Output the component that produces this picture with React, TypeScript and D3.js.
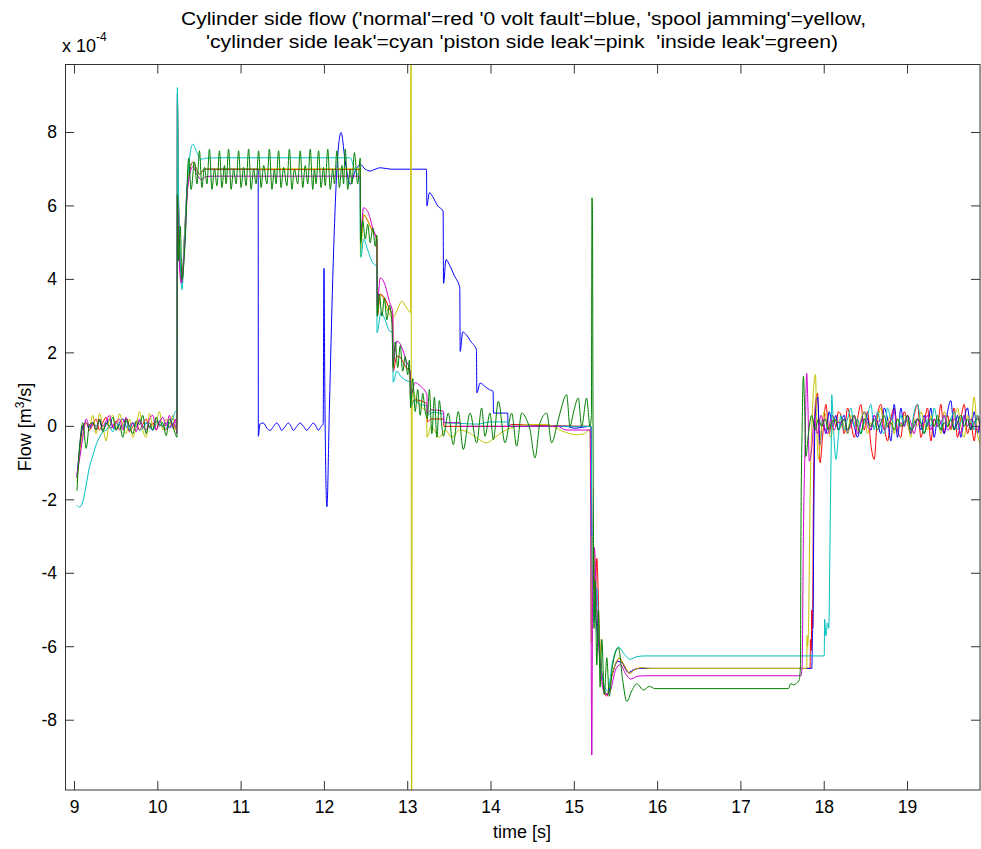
import React from "react";
import * as d3 from "d3";

// ---------- data (flow in 1e-4 m^3/s, time in s) ----------
const T_START = [9.03, 9.06, 9.10, 9.14, 9.18, 9.22, 9.26, 9.30, 9.34, 9.38, 9.42, 9.46, 9.50, 9.54, 9.58, 9.62, 9.66, 9.70, 9.74, 9.78, 9.82, 9.86, 9.90, 9.94, 9.98, 10.02, 10.06, 10.10, 10.14, 10.18, 10.21];
const T_END = [18.20, 18.24, 18.28, 18.32, 18.36, 18.40, 18.44, 18.48, 18.52, 18.56, 18.60, 18.64, 18.68, 18.72, 18.76, 18.80, 18.84, 18.88, 18.92, 18.96, 19.00, 19.04, 19.08, 19.12, 19.16, 19.20, 19.24, 19.28, 19.32, 19.36, 19.40, 19.44, 19.48, 19.52, 19.56, 19.60, 19.64, 19.68, 19.72, 19.76, 19.80, 19.84, 19.88];

const redStart = [-1.4, -0.7, 0.0, 0.1, -0.1, 0.05, 0.2, -0.1, 0.1, 0.25, -0.05, 0.0, 0.15, -0.1, 0.1, 0.2, -0.15, 0.0, 0.1, -0.1, 0.05, 0.2, -0.05, 0.1, -0.1, 0.15, 0.0, -0.1, 0.1, 0.05, -0.05];
const blueStart = [-1.4, -0.6, 0.0, 0.1, -0.05, 0.1, 0.0, 0.15, -0.1, 0.05, 0.2, 0.0, -0.1, 0.1, 0.2, 0.0, -0.1, 0.1, 0.0, 0.15, -0.05, 0.1, 0.0, -0.1, 0.15, 0.05, 0.0, 0.1, -0.05, 0.1, 0.0];
const yellowStart = [-1.5, -0.8, -0.2, 0.1, 0.0, 0.3, -0.2, 0.35, 0.0, -0.4, 0.2, 0.3, -0.1, 0.35, 0.0, -0.2, 0.2, -0.3, 0.0, 0.4, -0.1, -0.3, 0.35, 0.0, 0.1, 0.4, -0.1, 0.2, 0.0, 0.3, -0.1];
const cyanStart = [-2.15, -2.2, -2.05, -1.6, -1.1, -0.8, -0.5, -0.3, -0.15, -0.1, 0.0, -0.15, 0.1, -0.05, 0.0, 0.15, -0.1, 0.1, 0.0, -0.1, -0.05, 0.1, 0.0, -0.1, 0.05, 0.15, 0.0, -0.05, 0.1, 0.2, 0.4];
const magentaStart = [-1.3, -0.9, -0.3, 0.2, 0.0, 0.1, -0.1, 0.2, 0.0, 0.15, 0.3, -0.05, 0.1, 0.2, -0.1, 0.25, 0.0, 0.1, -0.15, 0.2, 0.0, -0.1, 0.2, 0.3, -0.1, 0.1, 0.25, 0.0, 0.3, -0.05, 0.2];
const greenStart = [-1.75, -0.6, 0.1, -0.6, 0.05, 0.1, -0.1, 0.2, -0.15, 0.1, 0.0, 0.25, -0.1, 0.05, -0.3, 0.2, 0.0, -0.2, 0.15, 0.05, 0.3, -0.2, 0.1, -0.1, 0.25, 0.0, 0.1, -0.25, 0.2, 0.0, -0.2];

const redEnd = [0.3, -0.2, 0.5, 0.1, -0.3, 0.2, 0.6, -0.1, 0.4, -0.5, -0.9, 0.3, 0.6, 0.0, -0.4, 0.2, 0.5, -0.1, -0.3, 0.4, 0.1, -0.2, 0.3, 0.6, -0.3, 0.1, 0.5, -0.4, 0.2, 0.0, 0.6, -0.2, 0.3, -0.1, 0.5, -0.3, 0.2, 0.6, -0.2, 0.1, -0.4, 0.3, -0.3];
const blueEnd = [0.1, 0.3, -0.2, 0.2, 0.0, -0.3, 0.1, 0.4, 0.2, -0.1, 0.3, 0.1, -0.2, 0.5, 0.2, -0.4, 0.6, -0.3, 0.5, 0.0, 0.3, -0.2, 0.1, 0.2, -0.1, 0.3, 0.0, 0.5, -0.3, 0.2, 0.1, -0.2, 0.4, 0.7, -0.1, 0.3, -0.3, 0.2, 0.5, -0.1, 0.4, -0.2, 0.3];
const yellowEnd = [0.2, 0.0, -0.2, 0.3, 0.1, -0.1, 0.2, 0.4, -0.2, 0.1, 0.0, 0.2, 0.5, -0.1, 0.1, 0.3, -0.2, 0.2, 0.0, 0.3, 0.1, -0.3, 0.2, 0.0, 0.4, 0.1, -0.1, 0.3, 0.0, 0.2, -0.2, 0.4, 0.1, -0.1, 0.2, 0.5, 0.0, -0.3, 0.3, 0.1, 0.8, -0.2, -0.5];
const cyanEnd = [0.3, -0.1, 0.2, 0.5, 0.0, 0.2, -0.2, 0.1, 0.3, 0.6, -0.1, 0.4, 0.0, -0.2, 0.5, 0.2, 0.1, -0.1, 0.3, 0.0, 0.2, -0.1, 0.4, 0.6, 0.1, -0.2, 0.2, 0.0, 0.5, 0.1, -0.1, 0.3, 0.0, 0.2, 0.4, -0.1, 0.1, 0.3, 0.0, 0.2, -0.1, 0.3, 0.1];
const magentaEnd = [0.1, 0.2, -0.1, 0.0, 0.3, -0.2, 0.1, 0.2, 0.0, -0.1, 0.3, 0.1, 0.2, -0.1, 0.0, 0.2, 0.4, -0.1, 0.1, 0.0, 0.3, 0.1, -0.2, 0.2, 0.0, 0.1, 0.3, -0.1, 0.2, 0.0, 0.1, 0.3, -0.1, 0.0, 0.2, 0.1, -0.2, 0.3, 0.0, 0.2, 0.1, -0.1, 0.2];
const greenEnd = [0.0, 0.2, -0.1, 0.1, 0.3, 0.0, -0.2, 0.2, 0.1, 0.0, 0.2, -0.1, 0.1, 0.3, 0.0, 0.1, -0.1, 0.2, 0.0, 0.1, 0.3, -0.1, 0.0, 0.2, 0.1, -0.2, 0.1, 0.2, 0.0, 0.3, -0.1, 0.1, 0.0, 0.2, -0.1, 0.1, 0.3, 0.0, 0.2, -0.1, 0.1, 0.2, 0.0];

const redMid = [
  [10.23, 0.0], [10.235, 8.8], [10.245, 6.5], [10.27, 4.2], [10.29, 3.9], [10.32, 5.0], [10.36, 6.6], [10.42, 7.19], [10.5, 6.86], [10.56, 7.0], [10.62, 6.99], [12.43, 6.99],
  [12.435, 5.0], [12.47, 5.75], [12.52, 5.6], [12.58, 5.3], [12.63, 5.1], [12.635, 3.0], [12.67, 3.6], [12.72, 3.5], [12.78, 3.2], [12.82, 3.0],
  [12.825, 1.5], [12.87, 1.91], [12.92, 1.85], [12.98, 1.6], [13.03, 1.5], [13.035, 0.55], [13.08, 0.72], [13.15, 0.7], [13.23, 0.6], [13.235, 0.12], [13.28, 0.2], [13.43, 0.2], [13.435, 0.0],
  [14.2, 0.0], [14.25, 0.05], [14.6, 0.02], [15.2, 0.0],
  [15.212, -3.1], [15.22, -4.3], [15.235, -3.3], [15.25, -4.6], [15.27, -3.6], [15.3, -5.6], [15.34, -6.9], [15.39, -7.35], [15.44, -6.9], [15.5, -6.45], [15.545, -6.31], [15.6, -6.55], [15.66, -6.72], [15.72, -6.62], [15.8, -6.58], [15.9, -6.59], [17.83, -6.59],
  [17.835, -5.8], [17.845, -6.1], [17.85, -5.0], [17.86, -5.5], [17.87, -2.0], [17.89, 0.5], [17.92, 0.9], [17.95, -0.99], [17.98, -0.3], [18.02, 0.6], [18.06, -0.2], [18.1, 0.3], [18.14, 0.0], [18.17, 0.4],
];

const blueMid = [
  [10.23, 0.1], [10.235, 9.04], [10.245, 6.8], [10.27, 4.3], [10.29, 3.97], [10.32, 5.2], [10.36, 6.7], [10.42, 7.19], [10.5, 6.86], [10.56, 7.0], [10.62, 7.01], [11.205, 7.01],
  [11.207, -0.27], [11.225, 0.06], [11.267, 0.09], [11.31, -0.05], [11.347, -0.11], [11.39, 0.0], [11.427, 0.09], [11.46, 0.0], [11.487, -0.11], [11.53, 0.0], [11.567, 0.09], [11.6, 0.0], [11.627, -0.11], [11.67, 0.0], [11.707, 0.09], [11.75, 0.0], [11.787, -0.11], [11.83, 0.0], [11.867, 0.09], [11.9, 0.0], [11.927, -0.11], [11.96, 0.0], [11.985, 0.06],
  [11.995, 4.3], [12.005, 1.0], [12.03, -2.19], [12.06, 0.5], [12.1, 4.0], [12.15, 7.0], [12.2, 8.0], [12.25, 7.2], [12.31, 6.59], [12.37, 6.95], [12.43, 7.13], [12.49, 7.0], [12.55, 6.95], [12.61, 7.0], [12.67, 7.04], [12.8, 7.0], [13.225, 7.0],
  [13.23, 6.0], [13.26, 6.36], [13.3, 6.25], [13.36, 6.0], [13.425, 5.86], [13.43, 3.89], [13.46, 4.54], [13.5, 4.4], [13.56, 4.1], [13.625, 3.77], [13.63, 2.04], [13.66, 2.57], [13.7, 2.5], [13.76, 2.3], [13.825, 2.09],
  [13.83, 0.91], [13.87, 1.18], [13.92, 1.1], [13.98, 1.0], [14.025, 0.95], [14.03, 0.36], [14.2, 0.36], [14.205, 0.0], [14.9, 0.0], [15.0, -0.05], [15.2, 0.0],
  [15.212, -3.6], [15.225, -4.0], [15.24, -3.5], [15.26, -5.2], [15.3, -6.0], [15.35, -7.1], [15.4, -7.3], [15.45, -6.8], [15.52, -6.4], [15.58, -6.45], [15.65, -6.7], [15.72, -6.62], [15.8, -6.59], [17.85, -6.59],
  [17.86, -5.6], [17.865, -5.4], [17.875, -2.5], [17.89, 0.2], [17.92, 0.8], [17.95, -0.5], [17.98, 0.2], [18.02, -0.2], [18.06, 0.4], [18.1, 0.0], [18.14, 0.3], [18.17, -0.1],
];

const yellowMid = [
  [10.23, 0.1], [10.235, 9.04], [10.245, 6.8], [10.27, 4.3], [10.29, 3.97], [10.32, 5.2], [10.36, 6.7], [10.42, 7.19], [10.5, 6.86], [10.56, 7.0], [10.62, 7.01], [12.43, 7.01],
  [12.432, 4.63], [12.47, 5.77], [12.52, 5.6], [12.58, 5.3], [12.628, 5.18], [12.632, 3.1], [12.67, 3.59], [12.72, 3.4], [12.78, 3.05], [12.82, 2.96], [12.88, 3.2], [12.93, 3.41], [12.98, 3.25], [13.035, 3.1],
  [13.04, 15], [13.046, -15], [13.055, 1.0], [13.1, 0.75], [13.15, 0.55], [13.225, 0.4], [13.232, -0.3], [13.28, 0.0], [13.33, -0.15], [13.38, -0.3], [13.45, -0.1], [13.53, -0.3], [13.62, -0.1], [13.708, -0.14],
  [13.82, -0.3], [13.948, -0.45], [14.05, -0.3], [14.148, -0.14], [14.308, 0.0], [14.468, 0.05], [14.668, 0.05], [14.868, -0.14], [15.028, -0.23], [15.12, -0.2], [15.188, -0.09],
  [15.205, -5.9], [15.21, -3.0], [15.225, -4.4], [15.24, -3.4], [15.26, -4.9], [15.29, -5.3], [15.33, -6.8], [15.385, -7.3], [15.43, -7.0], [15.48, -6.55], [15.54, -6.31], [15.6, -6.5], [15.665, -6.72], [15.73, -6.62], [15.81, -6.57], [15.9, -6.59], [17.79, -6.59],
  [17.795, -5.7], [17.8, -6.0], [17.81, -5.6], [17.83, -2.0], [17.86, 0.5], [17.895, 1.41], [17.91, 0.0], [17.93, -0.9], [17.96, -0.2], [18.0, 0.4], [18.04, 0.0], [18.08, -0.3], [18.12, 0.2], [18.16, 0.1],
];

const cyanMid = [
  [10.23, 0.4], [10.235, 9.22], [10.245, 7.0], [10.27, 4.5], [10.29, 3.72], [10.32, 5.0], [10.36, 6.8], [10.42, 7.68], [10.47, 7.45], [10.52, 7.27], [10.58, 7.3], [10.7, 7.31], [12.31, 7.31], [12.36, 7.0], [12.425, 6.72],
  [12.43, 5.3], [12.44, 4.6], [12.47, 5.1], [12.52, 4.8], [12.58, 4.45], [12.628, 4.35], [12.632, 2.55], [12.68, 3.1], [12.72, 2.95], [12.78, 2.6], [12.82, 2.55],
  [12.825, 1.2], [12.87, 1.5], [12.92, 1.35], [12.98, 1.25], [13.03, 1.2], [13.035, 0.55], [13.08, 0.7], [13.15, 0.6], [13.23, 0.55], [13.235, 0.3], [13.3, 0.38], [13.43, 0.33], [13.435, 0.1], [13.63, 0.08], [13.83, 0.06], [14.0, 0.12], [14.2, 0.12], [14.23, 0.0], [15.2, 0.0],
  [15.215, -4.0], [15.24, -5.3], [15.27, -4.4], [15.3, -6.0], [15.35, -7.0], [15.4, -7.2], [15.46, -6.4], [15.53, -6.01], [15.6, -6.2], [15.67, -6.34], [15.75, -6.27], [15.85, -6.25], [18.0, -6.25],
  [18.005, -5.25], [18.02, -5.7], [18.04, -5.35], [18.055, -5.5], [18.065, -4.0], [18.075, -2.0], [18.085, -0.3], [18.09, 0.86], [18.11, 0.0], [18.14, -0.9], [18.17, -0.3],
];

const magentaMid = [
  [10.23, -0.2], [10.235, 6.3], [10.25, 5.0], [10.28, 3.9], [10.32, 4.8], [10.36, 6.5], [10.42, 7.07], [10.47, 6.85], [10.52, 6.72], [10.58, 6.8], [10.65, 6.81], [12.43, 6.81],
  [12.435, 5.3], [12.47, 5.95], [12.52, 5.85], [12.58, 5.4], [12.63, 5.0], [12.635, 3.3], [12.67, 4.04], [12.72, 3.9], [12.78, 3.4], [12.82, 3.09],
  [12.825, 1.7], [12.87, 2.32], [12.92, 2.2], [12.98, 1.8], [13.03, 1.46], [13.035, 0.85], [13.09, 1.19], [13.15, 1.1], [13.23, 0.86], [13.235, 0.35], [13.28, 0.45], [13.43, 0.41], [13.435, 0.1], [13.63, 0.1], [13.64, 0.0], [14.8, 0.0], [14.9, -0.1], [15.19, -0.1],
  [15.21, -8.95], [15.22, -4.5], [15.24, -3.3], [15.27, -5.0], [15.31, -6.5], [15.37, -7.3], [15.43, -7.2], [15.5, -6.6], [15.55, -6.49], [15.62, -6.75], [15.68, -6.88], [15.76, -6.8], [15.85, -6.79], [17.72, -6.79],
  [17.735, -6.5], [17.75, -3.0], [17.77, -0.5], [17.79, 1.44], [17.805, 0.5], [17.82, -0.95], [17.85, -0.6], [17.88, 0.2], [17.92, -0.2], [17.96, 0.3], [18.0, 0.0], [18.04, -0.2], [18.08, 0.2], [18.12, -0.1], [18.16, 0.1],
];

const greenMid = [
  [10.23, -0.3], [10.235, 6.3], [10.25, 4.5], [10.27, 5.45], [10.29, 4.0], [10.33, 5.1], [10.37, 7.3], [10.4, 6.45], [10.44, 7.2], [10.47, 6.6],
  [10.5, 7.5], [10.53, 6.5], [10.56, 7.05], [10.59, 6.6], [10.62, 7.55], [10.65, 6.45], [10.68, 7.0], [10.71, 6.55], [10.74, 7.5], [10.77, 6.5], [10.8, 7.1], [10.82, 6.6],
  [10.85, 7.55], [10.88, 6.45], [10.91, 7.0], [10.94, 6.6], [10.97, 7.5], [11.0, 6.5], [11.03, 7.05], [11.06, 6.55], [11.09, 7.55], [11.12, 6.45], [11.15, 7.0], [11.18, 6.6],
  [11.21, 7.5], [11.24, 6.5], [11.27, 7.1], [11.31, 6.6], [11.34, 7.55], [11.37, 6.45], [11.4, 7.0], [11.42, 6.6], [11.45, 7.5], [11.48, 6.5], [11.51, 7.05], [11.55, 6.55],
  [11.58, 7.55], [11.61, 6.45], [11.64, 7.0], [11.68, 6.6], [11.71, 7.5], [11.74, 6.5], [11.77, 7.1], [11.8, 6.6], [11.83, 7.55], [11.86, 6.45], [11.88, 7.0], [11.9, 6.6],
  [11.93, 7.5], [11.96, 6.5], [11.99, 7.05], [12.01, 6.55], [12.04, 7.55], [12.07, 6.45], [12.1, 7.0], [12.12, 6.6], [12.15, 7.5], [12.18, 6.5], [12.21, 7.1], [12.23, 6.6],
  [12.25, 7.55], [12.28, 6.45], [12.31, 7.0], [12.33, 6.6], [12.36, 7.45], [12.4, 6.6], [12.43, 7.3],
  [12.435, 5.0], [12.46, 5.6], [12.49, 5.1], [12.52, 5.5], [12.55, 5.0], [12.58, 5.4], [12.61, 4.9], [12.63, 5.2],
  [12.635, 3.0], [12.66, 3.6], [12.69, 3.0], [12.72, 3.5], [12.75, 2.9], [12.78, 3.3], [12.81, 2.8],
  [12.825, 1.6], [12.85, 2.3], [12.88, 1.6], [12.91, 2.2], [12.94, 1.5], [12.97, 1.9], [13.0, 1.4], [13.02, 1.8],
  [13.035, 0.5], [13.06, 1.3], [13.09, 0.4], [13.12, 1.0], [13.15, 0.3], [13.18, 0.9], [13.21, 0.4],
  [13.235, 0.2], [13.26, 1.0], [13.29, -0.2], [13.32, 0.8], [13.35, -0.3], [13.38, 0.7], [13.41, 0.0], [13.428, -0.27],
  [13.487, 0.36], [13.547, -0.5], [13.607, 0.4], [13.667, -0.63], [13.748, 0.36], [13.828, -0.45], [13.888, 0.5], [13.928, -0.27], [13.988, 0.36], [14.028, -0.36],
  [14.088, 0.68], [14.168, -0.45], [14.248, 0.36], [14.308, -0.54], [14.368, 0.36], [14.428, 0.18], [14.468, -0.09], [14.528, -0.86], [14.588, 0.09], [14.668, 0.36],
  [14.728, -0.45], [14.788, 0.0], [14.828, 0.36], [14.908, 0.86], [14.948, 0.0], [14.988, 0.36], [15.048, 0.77], [15.088, 0.0], [15.148, 0.77], [15.188, 0.0], [15.205, 0.3],
  [15.212, 6.22], [15.218, 5.8], [15.224, 0.5], [15.23, -3.0], [15.236, -5.5], [15.25, -4.2], [15.27, -6.5], [15.29, -5.0], [15.31, -7.1], [15.33, -5.8], [15.36, -7.3], [15.39, -6.3], [15.42, -7.35], [15.46, -6.5],
  [15.53, -6.03], [15.58, -6.9], [15.63, -7.49], [15.69, -7.2], [15.75, -7.01], [15.83, -7.18], [15.9, -7.08], [15.97, -7.14], [17.57, -7.14], [17.6, -7.0], [17.63, -7.04], [17.67, -6.99], [17.7, -6.9], [17.715, -6.5],
  [17.72, -3.0], [17.735, 0.0], [17.75, 1.36], [17.765, 0.5], [17.78, -0.82], [17.81, -0.2], [17.85, 0.3], [17.89, -0.1], [17.93, 0.2], [17.97, 0.0], [18.01, 0.2], [18.05, -0.1], [18.09, 0.1], [18.13, 0.2], [18.17, -0.1],
];

const X_TICKS = [9, 10, 11, 12, 13, 14, 15, 16, 17, 18, 19];
const Y_TICKS = [-8, -6, -4, -2, 0, 2, 4, 6, 8];
const TITLE_1 = "Cylinder side flow ('normal'=red '0 volt fault'=blue, 'spool jamming'=yellow,";
const TITLE_2 = "'cylinder side leak'=cyan 'piston side leak'=pink\u00a0\u00a0'inside leak'=green)";

// ---------- helpers ----------
function zip(ts: number[], vs: number[]): [number, number][] {
  const n = Math.min(ts.length, vs.length);
  const out: [number, number][] = [];
  for (let i = 0; i < n; i++) out.push([ts[i], vs[i]]);
  return out;
}
function build(start: number[], mid: number[][], end: number[]): [number, number][] {
  return [...zip(T_START, start), ...(mid as [number, number][]), ...zip(T_END, end)];
}

const SERIES = [
  { key: "red", color: "#ff0000", data: build(redStart, redMid, redEnd) },
  { key: "blue", color: "#0000ff", data: build(blueStart, blueMid, blueEnd) },
  { key: "yellow", color: "#c4c400", data: build(yellowStart, yellowMid, yellowEnd) },
  { key: "cyan", color: "#00c0c0", data: build(cyanStart, cyanMid, cyanEnd) },
  { key: "magenta", color: "#cc00cc", data: build(magentaStart, magentaMid, magentaEnd) },
  { key: "green", color: "#008000", data: build(greenStart, greenMid, greenEnd) },
];

const L = 65, R = 980, T = 64.5, B = 790;

export default function App() {
  const x = d3.scaleLinear().domain([8.886, 19.87]).range([L, R]);
  const y = d3.scaleLinear().domain([-9.9, 9.85]).range([B, T]);
  const line = d3
    .line<[number, number]>()
    .x((d) => x(d[0]))
    .y((d) => y(d[1]))
    .curve(d3.curveMonotoneX);
  const font = "'Liberation Sans', Arial, Helvetica, sans-serif";
  const axisColor = "#333";
  const tick = 9;

  return (
    <svg
      width={981}
      height={849}
      style={{ position: "absolute", left: 0, top: 0, background: "#fff" }}
      fontFamily={font}
    >
      <rect x={0} y={0} width={981} height={849} fill="#fff" />
      <defs>
        <clipPath id="plotclip">
          <rect x={L} y={T} width={R - L} height={B - T} />
        </clipPath>
      </defs>
      <g clipPath="url(#plotclip)">
        {SERIES.map((s) => (
          <path key={s.key} d={line(s.data) || ""} fill="none" stroke={s.color} strokeWidth={1} />
        ))}
      </g>
      {/* box */}
      <rect x={L + 0.5} y={T} width={R - L - 0.5} height={B - T} fill="none" stroke={axisColor} strokeWidth={1} />
      {/* x ticks */}
      {X_TICKS.map((t) => (
        <g key={"x" + t}>
          <line x1={x(t)} x2={x(t)} y1={B} y2={B - tick} stroke={axisColor} />
          <line x1={x(t)} x2={x(t)} y1={T} y2={T + tick} stroke={axisColor} />
          <text x={x(t)} y={813} fontSize={17.5} textAnchor="middle" fill="#000">{t}</text>
        </g>
      ))}
      {/* y ticks */}
      {Y_TICKS.map((v) => (
        <g key={"y" + v}>
          <line x1={L} x2={L + tick} y1={y(v)} y2={y(v)} stroke={axisColor} />
          <line x1={R} x2={R - tick} y1={y(v)} y2={y(v)} stroke={axisColor} />
          <text x={57} y={y(v) + 6} fontSize={17.5} textAnchor="end" fill="#000">{v}</text>
        </g>
      ))}
      {/* exponent */}
      <text x={62} y={52} fontSize={18} fill="#000">
        x 10<tspan fontSize={12} dy={-11}>-4</tspan>
      </text>
      {/* axis labels */}
      <text x={522} y={838} fontSize={18} textAnchor="middle" fill="#000">time [s]</text>
      <text transform="translate(31,427) rotate(-90)" fontSize={18} textAnchor="middle" fill="#000">
        Flow [m<tspan fontSize={12} dy={-7}>3</tspan><tspan dy={7}>/s]</tspan>
      </text>
      {/* title */}
      <text x={181} y={25} fontSize={18} fill="#000" textLength={685} lengthAdjust="spacingAndGlyphs">{TITLE_1}</text>
      <text x={206} y={48} fontSize={18} fill="#000" textLength={632} lengthAdjust="spacingAndGlyphs">{TITLE_2}</text>
    </svg>
  );
}
